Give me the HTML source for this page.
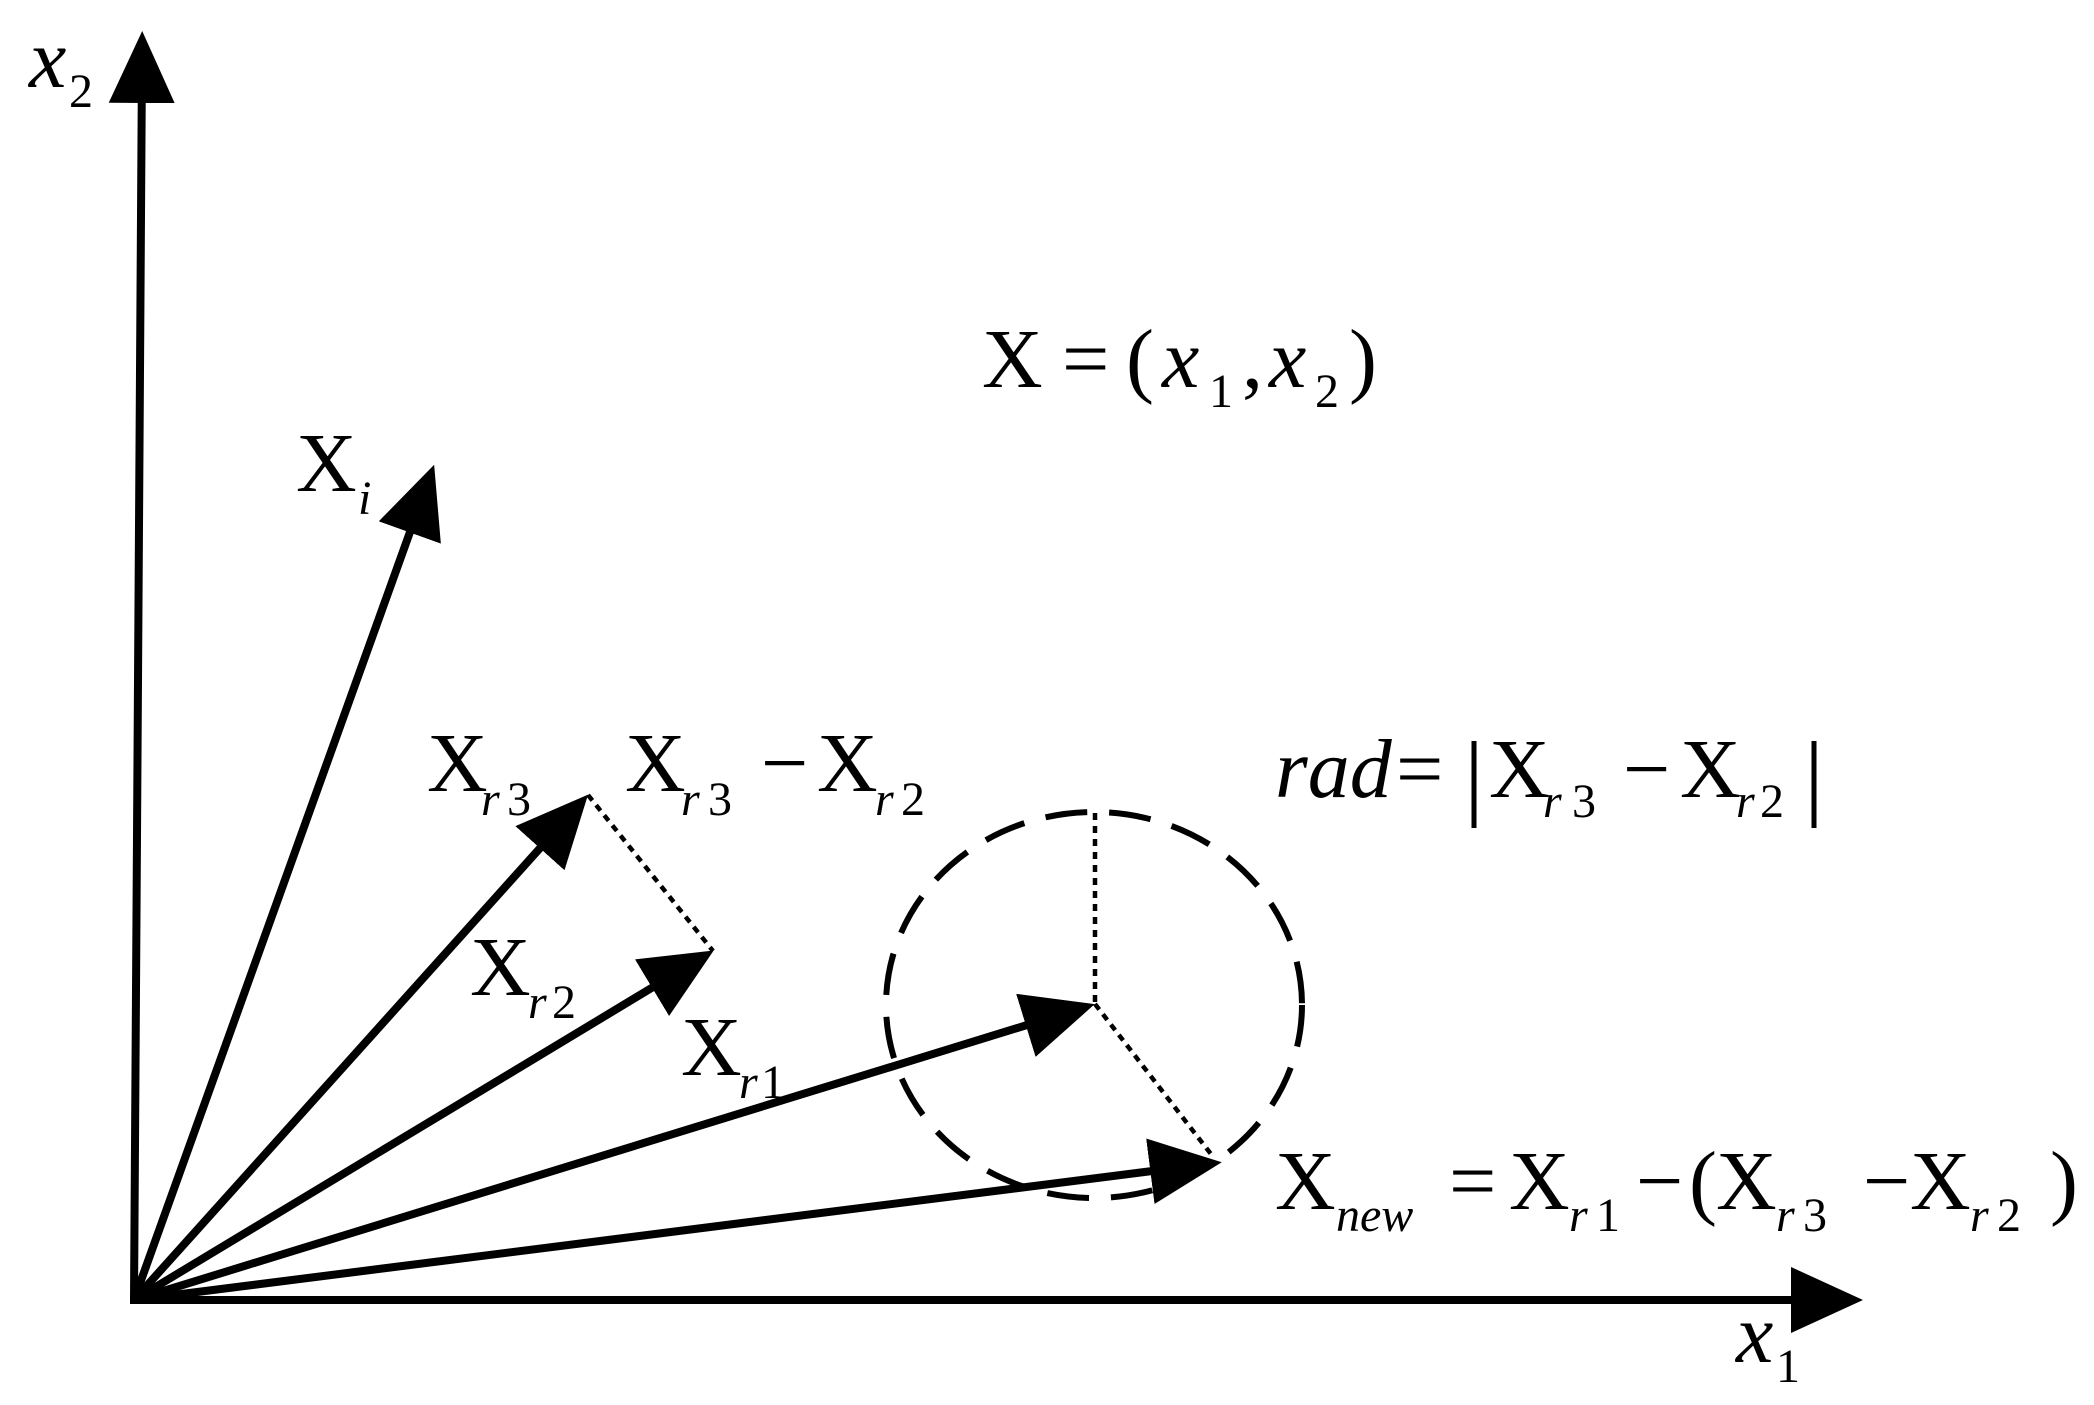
<!DOCTYPE html>
<html><head><meta charset="utf-8"><style>
html,body{margin:0;padding:0;background:#fff;}
svg{display:block;}
text{font-family:"Liberation Serif",serif;fill:#000;}
.m{font-size:84px;}
.s{font-size:48px;}
.i{font-style:italic;}
</style></head><body>
<svg width="2094" height="1405" viewBox="0 0 2094 1405" xmlns="http://www.w3.org/2000/svg">
<defs>
<marker id="ah" markerUnits="userSpaceOnUse" markerWidth="80" markerHeight="80" refX="42" refY="33" orient="auto">
<path d="M0,0 L72,33 L0,66 Z" fill="#000"/>
</marker>
</defs>
<g stroke="#000" stroke-width="8" fill="none" stroke-linecap="butt">
<line x1="134" y1="1300" x2="142" y2="61" marker-end="url(#ah)"/>
<line x1="130" y1="1300" x2="1833" y2="1300" marker-end="url(#ah)"/>
<line x1="134" y1="1300" x2="424" y2="493" marker-end="url(#ah)"/>
<line x1="134" y1="1300" x2="568" y2="817" marker-end="url(#ah)"/>
<line x1="134" y1="1300" x2="688" y2="966" marker-end="url(#ah)"/>
<line x1="134" y1="1300" x2="1066" y2="1013" marker-end="url(#ah)"/>
<line x1="134" y1="1300" x2="1192" y2="1166" marker-end="url(#ah)"/>
</g>
<g stroke="#000" stroke-width="4.5" fill="none" stroke-dasharray="7 6">
<line x1="588" y1="795" x2="713" y2="951"/>
<line x1="1095" y1="813" x2="1095" y2="1004"/>
<line x1="1095" y1="1004" x2="1214" y2="1158"/>
</g>
<ellipse cx="1094" cy="1005" rx="208" ry="193" stroke="#000" stroke-width="6" fill="none" stroke-dasharray="42 22"/>

<text class="m i" x="29" y="87">x</text><text class="s" x="69" y="107">2</text>
<text class="m i" x="1736" y="1362">x</text><text class="s" x="1776" y="1382">1</text>

<text class="m" x="982" y="387">X</text>
<text class="m" x="1062" y="387">=</text>
<text class="m" x="1126" y="387">(</text>
<text class="m i" x="1162" y="387">x</text><text class="s" x="1209" y="407">1</text>
<text class="m" x="1242" y="387">,</text>
<text class="m i" x="1269" y="387">x</text><text class="s" x="1315" y="407">2</text>
<text class="m" x="1349" y="387">)</text>

<text class="m" x="296" y="491">X</text><text class="s i" x="358" y="514">i</text>

<text class="m" x="427" y="791">X</text><text class="s i" x="481" y="815">r</text><text class="s" x="507" y="815">3</text>

<text class="m" x="625" y="791">X</text><text class="s i" x="681" y="815">r</text><text class="s" x="708" y="815">3</text>
<text class="m" x="761" y="791">−</text>
<text class="m" x="817" y="791">X</text><text class="s i" x="875" y="815">r</text><text class="s" x="901" y="815">2</text>

<text class="m" x="470" y="995">X</text><text class="s i" x="528" y="1018">r</text><text class="s" x="552" y="1018">2</text>
<text class="m" x="681" y="1075">X</text><text class="s i" x="739" y="1098">r</text><text class="s" x="761" y="1098">1</text>

<text class="m i" x="1275" y="797">rad</text>
<text class="m" x="1396" y="797">=</text>
<line x1="1474" y1="741" x2="1474" y2="828" stroke="#000" stroke-width="5"/>
<text class="m" x="1489" y="797">X</text><text class="s i" x="1543" y="817">r</text><text class="s" x="1572" y="817">3</text>
<text class="m" x="1623" y="797">−</text>
<text class="m" x="1680" y="797">X</text><text class="s i" x="1736" y="817">r</text><text class="s" x="1760" y="817">2</text>
<line x1="1814" y1="741" x2="1814" y2="828" stroke="#000" stroke-width="5"/>

<text class="m" x="1275" y="1209">X</text><text class="s i" x="1336" y="1231">new</text>
<text class="m" x="1449" y="1209">=</text>
<text class="m" x="1509" y="1209">X</text><text class="s i" x="1569" y="1231">r</text><text class="s" x="1596" y="1231">1</text>
<text class="m" x="1636" y="1209">−</text>
<text class="m" x="1689" y="1209">(</text>
<text class="m" x="1716" y="1209">X</text><text class="s i" x="1776" y="1231">r</text><text class="s" x="1803" y="1231">3</text>
<text class="m" x="1863" y="1209">−</text>
<text class="m" x="1910" y="1209">X</text><text class="s i" x="1970" y="1231">r</text><text class="s" x="1997" y="1231">2</text>
<text class="m" x="2050" y="1209">)</text>
</svg>
</body></html>
